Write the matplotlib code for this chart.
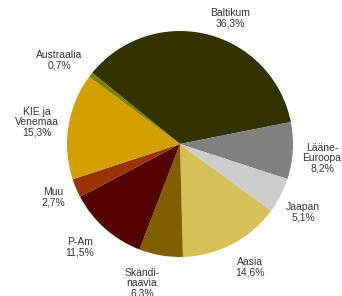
import matplotlib
matplotlib.use("Agg")
import matplotlib.pyplot as plt

plt.rcParams['font.family'] = ['Liberation Sans', 'DejaVu Sans']

# clockwise from the top-left edge of Baltikum
regions = ["Baltikum", "Lääne-\nEuroopa", "Jaapan", "Aasia", "Skandi-\nnaavia",
           "P-Am", "Muu", "KIE ja\nVenemaa", "Austraalia"]
shares = [36.3, 8.2, 5.1, 14.6, 6.3, 11.5, 2.7, 15.3, 0.7]
share_labels = ["36,3%", "8,2%", "5,1%", "14,6%", "6,3%", "11,5%", "2,7%", "15,3%", "0,7%"]
colors = ["#333300", "#808080", "#cccccc", "#d6c05a", "#7f5f00",
          "#550000", "#993300", "#d4a000", "#808000"]

# label centres in image pixels
label_pos = [(230, 18), (322, 158), (303, 212), (250, 267), (142, 283),
             (80, 247), (53, 197), (37, 122), (59, 60)]

W, H = 342, 296
cx, cy, r = 180, 144, 113

fig = plt.figure(figsize=(W / 100, H / 100), dpi=100)
ax = fig.add_axes([0, 0, 1, 1])
ax.pie(shares, colors=colors, startangle=141, counterclock=False,
       radius=1, center=(0, 0), wedgeprops=dict(linewidth=0))
ax.set_xlim(-cx / r, (W - cx) / r)
ax.set_ylim(-(H - cy) / r, cy / r)
ax.set_aspect('equal')
ax.axis('off')

for name, lab, (px, py) in zip(regions, share_labels, label_pos):
    ax.text((px - cx) / r, (cy - py) / r, name + "\n" + lab, ha='center', va='center',
            fontsize=7.5, color='#333333', linespacing=1.05)

fig.savefig("out.png", dpi=100)
